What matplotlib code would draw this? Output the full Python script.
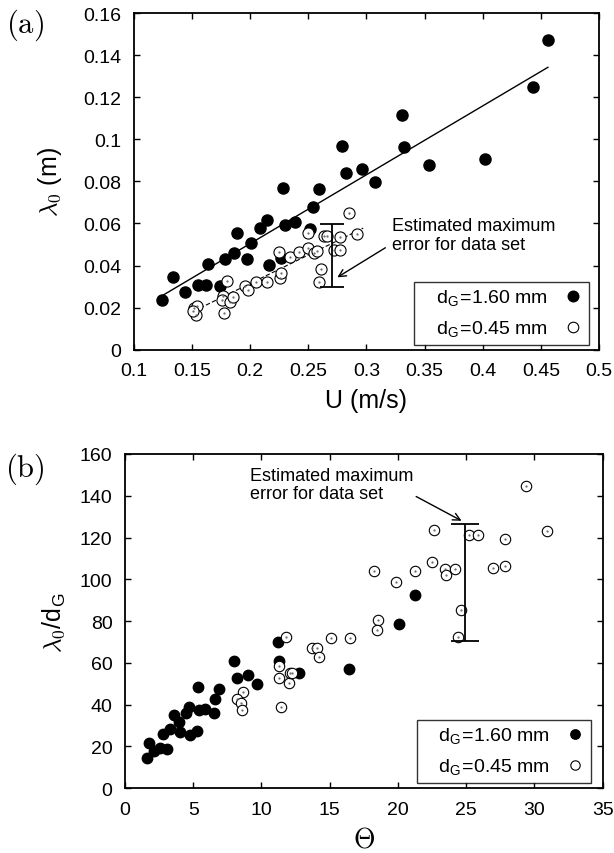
import matplotlib
matplotlib.use("Agg")
import matplotlib.pyplot as plt

plt.rcParams["font.family"] = ["Liberation Sans", "DejaVu Sans"]
plt.rcParams["mathtext.fontset"] = "cm"

# ---- panel (a): wavelength vs velocity ----
u_big = [0.1243, 0.1333, 0.1441, 0.1553, 0.1622, 0.1639, 0.1740, 0.1783, 0.1858, 0.1886,
         0.1969, 0.2004, 0.2084, 0.2147, 0.2161, 0.2267, 0.2282, 0.2302, 0.2388, 0.2514,
         0.2537, 0.2594, 0.2787, 0.2824, 0.2964, 0.3073, 0.3305, 0.3323, 0.3538, 0.4022,
         0.4435, 0.4561]
lam_big = [0.0238, 0.0344, 0.0276, 0.0308, 0.0308, 0.0407, 0.0301, 0.0431, 0.0460, 0.0553,
           0.0430, 0.0509, 0.0577, 0.0615, 0.0403, 0.0434, 0.0767, 0.0594, 0.0608, 0.0572,
           0.0677, 0.0762, 0.0968, 0.0841, 0.0859, 0.0798, 0.1115, 0.0965, 0.0879, 0.0906,
           0.1249, 0.1472]
u_small = [0.1516, 0.1539, 0.1536, 0.1505, 0.1777, 0.1803, 0.1763, 0.1754, 0.1826, 0.1849,
           0.1952, 0.1981, 0.2047, 0.2144, 0.2256, 0.2265, 0.2245, 0.2342, 0.2422, 0.2494,
           0.2499, 0.2548, 0.2572, 0.2611, 0.2594, 0.2637, 0.2663, 0.2723, 0.2772, 0.2772,
           0.2847, 0.2918]
lam_small = [0.0197, 0.0206, 0.0166, 0.0184, 0.0174, 0.0325, 0.0257, 0.0238, 0.0225, 0.0249,
             0.0301, 0.0285, 0.0320, 0.0320, 0.0339, 0.0363, 0.0466, 0.0439, 0.0466, 0.0485,
             0.0555, 0.0460, 0.0471, 0.0384, 0.0323, 0.0542, 0.0542, 0.0474, 0.0474, 0.0534,
             0.0648, 0.0550]
fit_u_big = [0.1243, 0.4561]
fit_lam_big = [0.0257, 0.1342]
fit_u_small = [0.1516, 0.2972]
fit_lam_small = [0.0184, 0.0578]
err_a_u = 0.2701
err_a_lo, err_a_hi = 0.0300, 0.0598

# ---- panel (b): scaled wavelength vs Shields parameter ----
th_big = [1.59, 1.78, 2.15, 2.56, 3.10, 2.76, 3.30, 3.59, 3.93, 4.03,
          4.47, 4.71, 4.78, 5.27, 5.33, 5.44, 5.86, 6.52, 6.59, 6.86,
          7.99, 8.18, 8.99, 9.67, 11.19, 11.28, 12.75, 16.39, 20.07, 21.27]
ratio_big = [14.7, 21.8, 17.6, 19.4, 18.6, 25.8, 28.2, 34.9, 31.7, 27.1,
             36.2, 38.9, 25.3, 27.4, 48.4, 37.3, 38.1, 36.1, 42.5, 47.7,
             60.7, 53.0, 54.1, 50.1, 69.9, 60.9, 55.3, 57.0, 78.5, 92.3]
th_small = [11.77, 11.26, 11.30, 11.43, 11.99, 12.09, 12.21, 13.68, 14.04, 14.23,
            15.11, 16.48, 8.67, 8.23, 8.50, 8.59, 18.51, 18.44, 18.22, 19.83,
            21.25, 22.51, 22.64, 23.44, 23.49, 24.18, 24.62, 24.37, 25.22, 25.88,
            26.94, 27.82, 27.82, 29.36, 30.92]
ratio_small = [72.3, 58.7, 53.0, 38.8, 50.5, 55.0, 55.4, 67.0, 67.0, 63.0,
               72.1, 72.1, 46.2, 42.5, 41.0, 37.3, 80.3, 75.5, 104.1, 98.7,
               104.1, 108.3, 123.7, 105.1, 101.9, 105.1, 85.4, 72.3, 121.4, 121.4,
               105.4, 106.2, 119.5, 144.5, 123.1]
err_b_th = 24.89
err_b_lo, err_b_hi = 70.3, 126.4

label_big = r"   d$_{\mathregular{G}}$=1.60 mm"
label_small = r"   d$_{\mathregular{G}}$=0.45 mm"
note = "Estimated maximum\nerror for data set"

fig = plt.figure(figsize=(6.14, 8.54), dpi=100)
ax1 = fig.add_axes([0.2182, 0.5893, 0.7573, 0.3943])
ax2 = fig.add_axes([0.2036, 0.0758, 0.7780, 0.3915])

for ax in (ax1, ax2):
    ax.tick_params(direction="in", top=True, right=True, length=4, width=1,
                   labelsize=14, pad=9)
    for s in ax.spines.values():
        s.set_linewidth(1.3)

# panel (a)
ax1.plot(fit_u_big, fit_lam_big, color="black", lw=1.0)
ax1.plot(fit_u_small, fit_lam_small, color="black", lw=0.8, ls=(0, (4, 2)))
ax1.plot(u_big, lam_big, "o", color="black", ms=8, label=label_big)
ax1.plot(u_small, lam_small, "o", mfc="white", mec="black", mew=0.8, ms=8, label=label_small)
ax1.plot(u_small, lam_small, ".", color="0.4", ms=1.2)
ax1.errorbar([err_a_u], [(err_a_lo + err_a_hi) / 2], yerr=[(err_a_hi - err_a_lo) / 2],
             fmt="none", ecolor="black", elinewidth=1.3, capsize=8.5, capthick=1.3)
ax1.annotate(note, xy=(0.2749, 0.0344), xytext=(0.3217, 0.0545), fontsize=13,
             va="center", ha="left", linespacing=1.1,
             arrowprops=dict(arrowstyle="->", color="black", lw=1,
                             shrinkA=3, shrinkB=0, relpos=(0, 0.25)))
ax1.set_xlim(0.1, 0.5)
ax1.set_ylim(0, 0.16)
ax1.set_xticks([0.1, 0.15, 0.2, 0.25, 0.3, 0.35, 0.4, 0.45, 0.5])
ax1.set_xticklabels(["0.1", "0.15", "0.2", "0.25", "0.3", "0.35", "0.4", "0.45", "0.5"])
ax1.set_yticks([0, 0.02, 0.04, 0.06, 0.08, 0.1, 0.12, 0.14, 0.16])
ax1.set_yticklabels(["0", "0.02", "0.04", "0.06", "0.08", "0.1", "0.12", "0.14", "0.16"])
ax1.set_xlabel("U (m/s)", fontsize=18, labelpad=6)
ax1.set_ylabel(r"$\lambda_0$ (m)", fontsize=18)
ax1.yaxis.set_label_coords(-0.150, 0.5)
leg1 = ax1.legend(loc="lower right", bbox_to_anchor=(0.978, 0.014), borderaxespad=0,
                  markerfirst=False, fancybox=False, edgecolor="black", fontsize=14,
                  handlelength=1.0, handletextpad=0.8, borderpad=0.3, labelspacing=0.55,
                  markerscale=0.95)
leg1.get_frame().set_linewidth(1.0)

# panel (b)
ax2.plot(th_big, ratio_big, "o", color="black", ms=7.5, label=label_big)
ax2.plot(th_small, ratio_small, "o", mfc="white", mec="black", mew=0.8, ms=7.5, label=label_small)
ax2.plot(th_small, ratio_small, ".", color="0.4", ms=1.2)
ax2.errorbar([err_b_th], [(err_b_lo + err_b_hi) / 2], yerr=[(err_b_hi - err_b_lo) / 2],
             fmt="none", ecolor="black", elinewidth=1.3, capsize=10, capthick=1.3)
ax2.annotate(note, xy=(24.66, 128.0), xytext=(9.16, 145.4), fontsize=13,
             va="center", ha="left", linespacing=1.1,
             arrowprops=dict(arrowstyle="->", color="black", lw=1,
                             shrinkA=0, shrinkB=0, relpos=(1.0, 0.2)))
ax2.set_xlim(0, 35)
ax2.set_ylim(0, 160)
ax2.set_xticks(range(0, 36, 5))
ax2.set_yticks(range(0, 161, 20))
ax2.set_xlabel(r"$\Theta$", fontsize=20, labelpad=6)
ax2.set_ylabel(r"$\lambda_0$/d$_{\mathregular{G}}$", fontsize=18)
ax2.yaxis.set_label_coords(-0.122, 0.5)
leg2 = ax2.legend(loc="lower right", bbox_to_anchor=(0.9755, 0.015), borderaxespad=0,
                  markerfirst=False, fancybox=False, edgecolor="black", fontsize=14,
                  handlelength=1.0, handletextpad=0.8, borderpad=0.3, labelspacing=0.55,
                  markerscale=0.9)
leg2.get_frame().set_linewidth(1.0)

fig.text(0.040, 0.971, r"$\mathrm{(a)}$", fontsize=22, ha="center", va="center")
fig.text(0.040, 0.451, r"$\mathrm{(b)}$", fontsize=22, ha="center", va="center")

fig.savefig("out.png", dpi=100)
